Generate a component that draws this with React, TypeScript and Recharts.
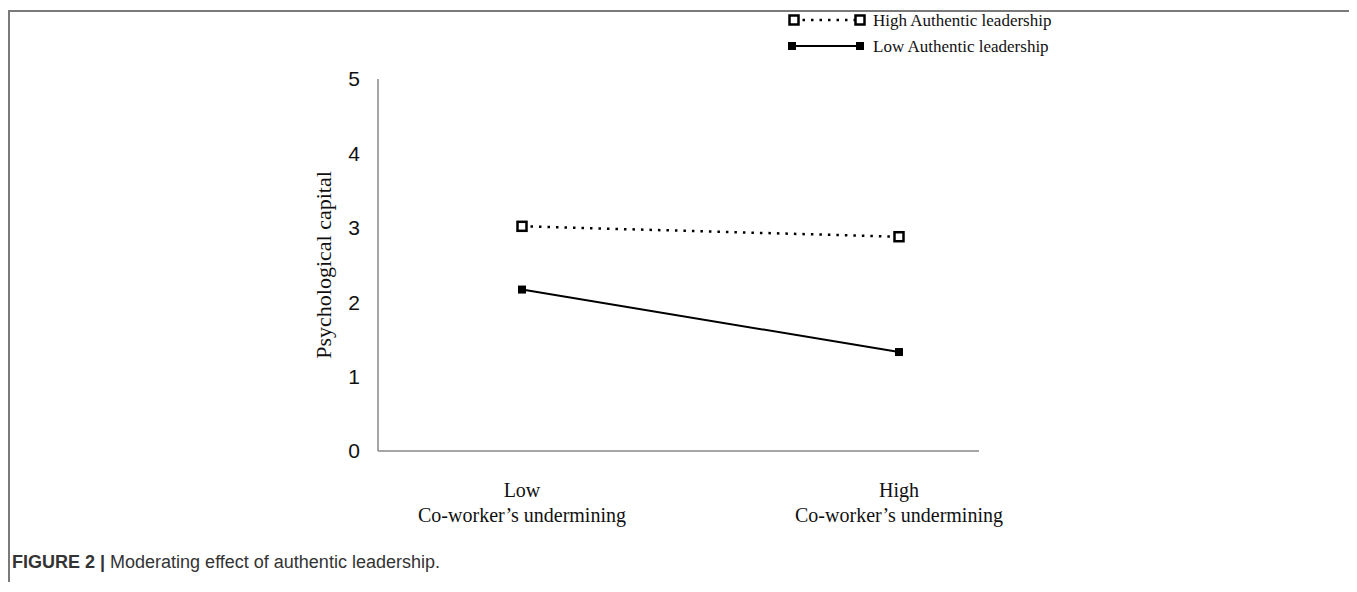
import { LineChart, Line, XAxis, YAxis } from "recharts"

const categories = ['Low', 'High']
const highAuthentic = [3.02, 2.88]
const lowAuthentic = [2.17, 1.33]
const yTicks = [0, 1, 2, 3, 4, 5]
const seriesNames = ['High Authentic leadership', 'Low Authentic leadership']
const xSubLabel = 'Co-worker’s undermining'
const yLabel = 'Psychological capital'

const data = categories.map((cat, i) => ({ cat, high: highAuthentic[i], low: lowAuthentic[i] }))

const SERIF = '"Liberation Serif", "Times New Roman", serif'
const SANS = '"Liberation Sans", Arial, sans-serif'

const OpenSquare = (props: any) => {
  const { cx, cy } = props
  if (cx == null || cy == null) return null
  return <rect x={cx - 4.5} y={cy - 4.5} width={9} height={9} fill="#fff" stroke="#000" strokeWidth={2.5} />
}

const FilledSquare = (props: any) => {
  const { cx, cy } = props
  if (cx == null || cy == null) return null
  return <rect x={cx - 4} y={cy - 4} width={8} height={8} fill="#000" />
}

const XTick = (props: any) => {
  const { x, y, payload } = props
  return (
    <text x={x} y={y} textAnchor="middle" fontFamily={SERIF} fontSize={20} fill="#111">
      <tspan x={x} dy={46}>{payload.value}</tspan>
      <tspan x={x} dy={25}>{xSubLabel}</tspan>
    </text>
  )
}

// legend drawn by hand, top right
const ChartLegend = () => (
  <svg width={300} height={70} style={{ position: 'absolute', left: 770, top: 0 }}>
    <line x1={14} y1={8} x2={80} y2={8} stroke="#000" strokeWidth={2.5} strokeDasharray="2.5 6" />
    <rect x={9.5} y={3.5} width={9} height={9} fill="#fff" stroke="#000" strokeWidth={2.5} />
    <rect x={75.5} y={3.5} width={9} height={9} fill="#fff" stroke="#000" strokeWidth={2.5} />
    <text x={93} y={14} fontFamily={SERIF} fontSize={17} fill="#111">{seriesNames[0]}</text>
    <line x1={12} y1={34} x2={80} y2={34} stroke="#000" strokeWidth={2} />
    <rect x={8} y={30} width={8} height={8} fill="#000" />
    <rect x={76} y={30} width={8} height={8} fill="#000" />
    <text x={93} y={40} fontFamily={SERIF} fontSize={17} fill="#111">{seriesNames[1]}</text>
  </svg>
)

export default function App() {
  return (
    <div
      style={{
        position: 'relative',
        width: 1347,
        height: 572,
        marginTop: 2,
        boxSizing: 'border-box',
        borderTop: '2px solid #7a7a7a',
        borderLeft: '2px solid #7a7a7a',
        borderRight: '2px solid #7a7a7a',
        background: '#fff',
      }}
    >
      <div style={{ position: 'absolute', left: 0, top: 0 }}>
        <LineChart width={1100} height={520} data={data} margin={{ top: 67, right: 131, bottom: 11, left: 308 }}>
          <XAxis
            dataKey="cat"
            padding={{ left: 144, right: 80 }}
            axisLine={{ stroke: '#888', strokeWidth: 1.5 }}
            tickLine={false}
            tickSize={0}
            tickMargin={0}
            height={70}
            tick={<XTick />}
            interval={0}
          />
          <YAxis
            domain={[0, 5]}
            ticks={yTicks}
            width={60}
            axisLine={{ stroke: '#888', strokeWidth: 1.5 }}
            tickLine={false}
            tickSize={0}
            tickMargin={18}
            tick={{ fontFamily: SANS, fontSize: 21, fill: '#111' }}
            label={{
              value: yLabel,
              angle: -90,
              position: 'insideLeft',
              offset: 5,
              style: { textAnchor: 'middle', fontFamily: SERIF, fontSize: 22, fill: '#111' },
            }}
          />
          <Line
            dataKey="high"
            name={seriesNames[0]}
            stroke="#000"
            strokeWidth={2.5}
            strokeDasharray="2.5 6"
            dot={<OpenSquare />}
            activeDot={false}
            isAnimationActive={false}
          />
          <Line
            dataKey="low"
            name={seriesNames[1]}
            stroke="#000"
            strokeWidth={2}
            dot={<FilledSquare />}
            activeDot={false}
            isAnimationActive={false}
          />
        </LineChart>
      </div>
      <ChartLegend />
      <div
        style={{
          position: 'absolute',
          left: 2,
          top: 540,
          fontFamily: SANS,
          fontSize: 18,
          color: '#333',
          whiteSpace: 'nowrap',
        }}
      >
        <b>FIGURE 2 |</b> Moderating effect of authentic leadership.
      </div>
    </div>
  )
}
